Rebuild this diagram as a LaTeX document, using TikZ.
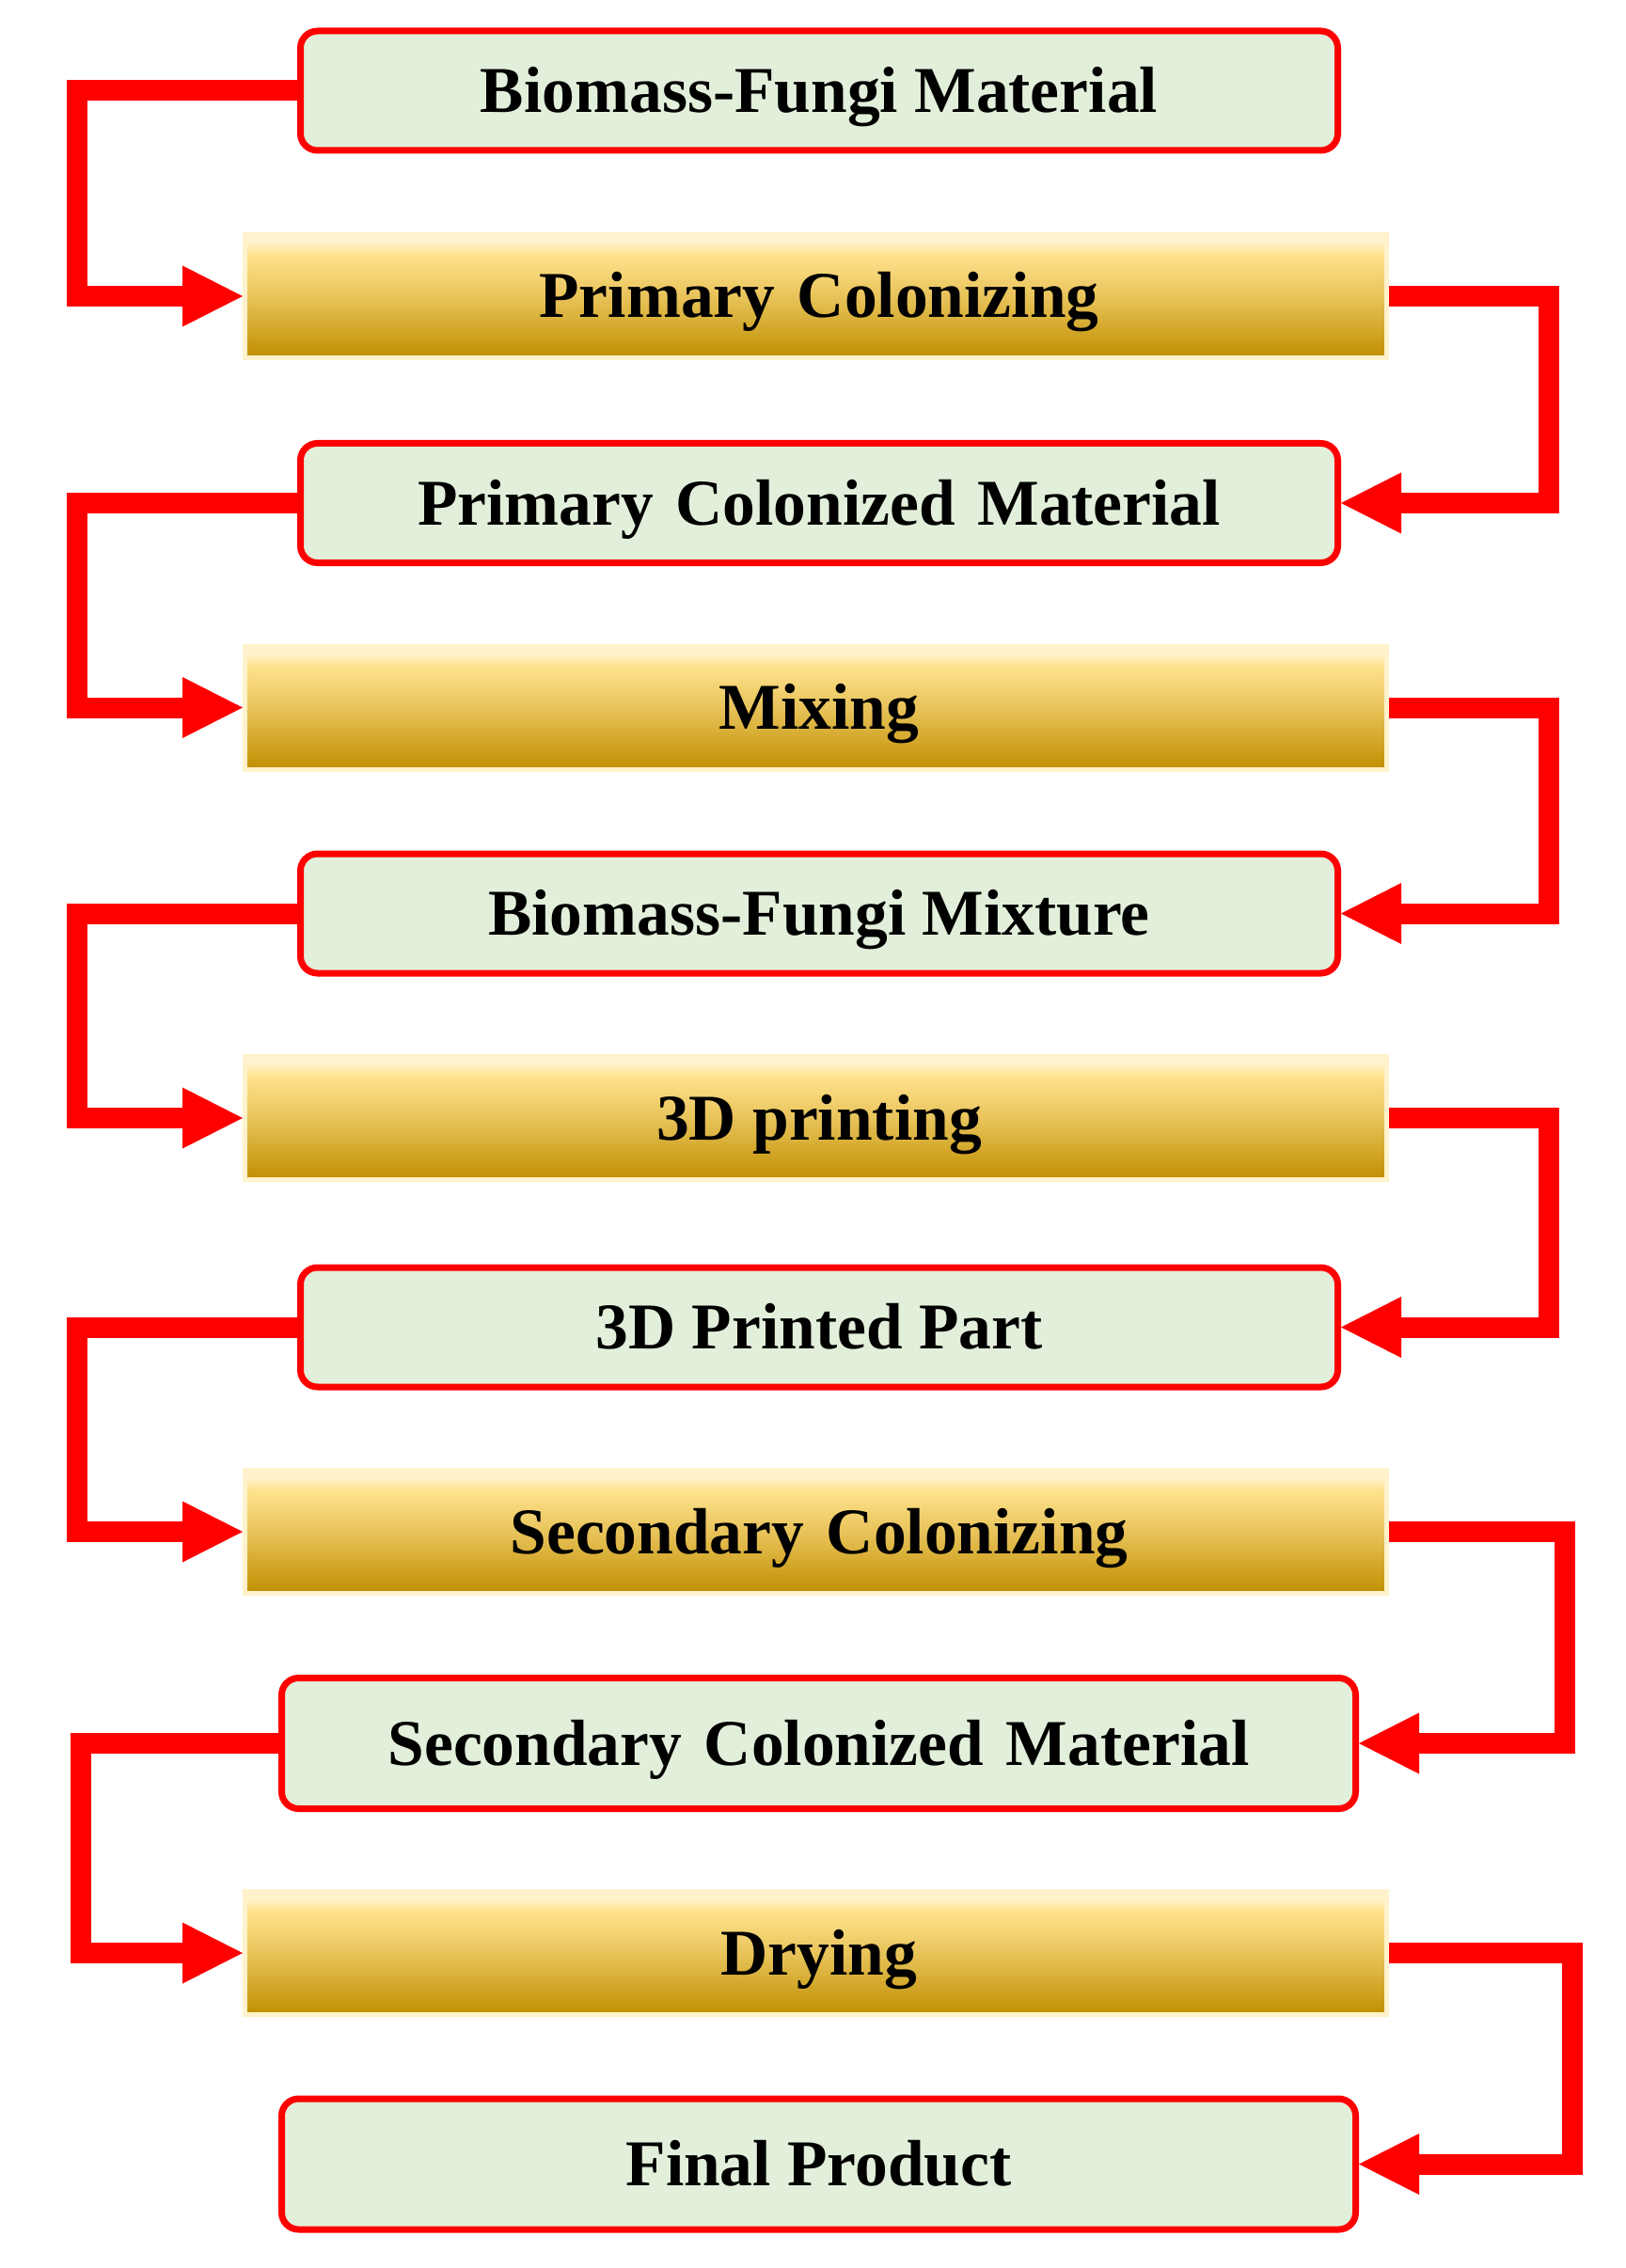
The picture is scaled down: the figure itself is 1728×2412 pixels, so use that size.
\documentclass[tikz,border=0pt]{standalone}
\usepackage{fontspec}
\setmainfont{Liberation Serif}
\usetikzlibrary{arrows.meta}
\definecolor{boxred}{RGB}{255,0,0}
\definecolor{greenfill}{HTML}{E2EFDA}
\definecolor{cream}{HTML}{FFF2CC}
\definecolor{gtop}{HTML}{FFE38E}
\definecolor{gmid}{HTML}{E8C35A}
\definecolor{gbot}{HTML}{C08F00}
\pgfdeclareverticalshading{goldshade}{100bp}{color(0bp)=(gbot); color(25bp)=(gbot); color(50bp)=(gmid); color(67bp)=(gtop); color(72bp)=(cream); color(75bp)=(cream); color(100bp)=(cream)}
\newcommand{\wdsp}{\hspace{0.34em}}
\tikzset{
 lbl/.style={font=\bfseries\fontsize{34.75pt}{40pt}\selectfont, text height=23pt, text depth=0pt, inner sep=0pt},
 greenbox/.style={lbl, draw=boxred, line width=3.5pt, fill=greenfill, rounded corners=9pt, minimum width=551.5pt, minimum height=63.5pt},
 widebox/.style={greenbox, minimum width=571pt, minimum height=69.5pt},
 goldbox/.style={lbl, draw=cream, line width=2.5pt, shade, shading=goldshade, minimum width=607pt, minimum height=65.5pt, execute at begin node={\hspace*{3.5pt}}},
 conn/.style={draw=boxred, line width=11pt, line join=miter, -{Triangle[length=32pt,width=32.5pt,line width=0pt]}}
}
\begin{document}
\begin{tikzpicture}[x=0.5pt,y=-0.5pt]
\useasboundingbox (0,0) rectangle (1728,2412);
\fill[white] (0,0) rectangle (1728,2412);
\node[greenbox] (g1) at (871,96.5) {Biomass-Fungi Material};
\node[goldbox]  (p1) at (867.5,315) {Primary\wdsp Colonizing};
\node[greenbox] (g2) at (871,535) {Primary\wdsp Colonized\wdsp Material};
\node[goldbox]  (p2) at (867.5,752.5) {Mixing};
\node[greenbox] (g3) at (871,971.5) {Biomass-Fungi Mixture};
\node[goldbox]  (p3) at (867.5,1189) {3D printing};
\node[greenbox] (g4) at (871,1411.5) {3D Printed Part};
\node[goldbox]  (p4) at (867.5,1629) {Secondary\wdsp Colonizing};
\node[widebox]  (g5) at (870.5,1854) {Secondary\wdsp Colonized\wdsp Material};
\node[goldbox]  (p5) at (867.5,2077) {Drying};
\node[widebox]  (g6) at (870.5,2301.5) {Final Product};
\coordinate (L1) at (82,0);
\coordinate (L5) at (86,0);
\coordinate (R1) at (1647,0);
\coordinate (R4) at (1664,0);
\coordinate (R5) at (1672,0);
\draw[conn] (g1.west) -- (g1.west -| L1) |- (p1.west);
\draw[conn] (p1.east) -- (p1.east -| R1) |- (g2.east);
\draw[conn] (g2.west) -- (g2.west -| L1) |- (p2.west);
\draw[conn] (p2.east) -- (p2.east -| R1) |- (g3.east);
\draw[conn] (g3.west) -- (g3.west -| L1) |- (p3.west);
\draw[conn] (p3.east) -- (p3.east -| R1) |- (g4.east);
\draw[conn] (g4.west) -- (g4.west -| L1) |- (p4.west);
\draw[conn] (p4.east) -- (p4.east -| R4) |- (g5.east);
\draw[conn] (g5.west) -- (g5.west -| L5) |- (p5.west);
\draw[conn] (p5.east) -- (p5.east -| R5) |- (g6.east);
\end{tikzpicture}
\end{document}
